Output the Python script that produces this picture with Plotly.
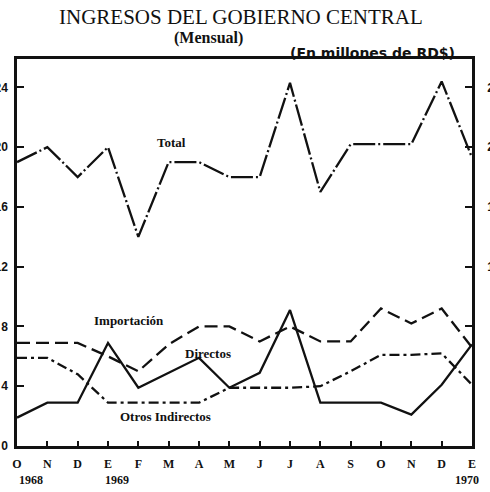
import plotly.graph_objects as go

# Monthly central-government revenue, Oct 1968 - Jan 1970 (millions of RD$)
months = ["O", "N", "D", "E", "F", "M", "A", "M", "J", "J", "A", "S", "O", "N", "D", "E"]
total = [19.0, 20.0, 18.0, 20.0, 14.0, 19.0, 19.0, 18.0, 18.0, 24.3, 17.0, 20.2, 20.2, 20.2, 24.4, 19.3]
importacion = [6.9, 6.9, 6.9, 6.0, 5.0, 6.8, 8.0, 8.0, 7.0, 8.0, 7.0, 7.0, 9.2, 8.2, 9.2, 6.6]
directos = [5.9, 5.9, 4.8, 2.9, 2.9, 2.9, 2.9, 3.9, 3.9, 3.9, 4.0, 5.0, 6.1, 6.1, 6.2, 4.1]
otros = [1.9, 2.9, 2.9, 6.9, 3.9, 4.9, 5.9, 3.9, 4.9, 9.1, 2.9, 2.9, 2.9, 2.1, 4.1, 6.8]

left_ticks = [0, 4, 8, 12, 16, 20, 24]
left_labels = ["0", "4", "8", "12", "16", "20", "24"]
right_ticks = [8, 12, 16, 20, 24]
right_labels = ["", "12", "16", "20", "24"]
years = ["1968", "1969", "1970"]
year_pos = [0.45, 3.3, 14.85]

W, H = 490, 492
L, R, T, B = 17, 472, 59, 446   # plot frame in page pixels


def px(xp):
    return (xp - L) / (R - L)


def py(yp):
    return (B - yp) / (B - T)


x = list(range(len(months)))
INK = "#111111"

fig = go.Figure()
series = [
    ("Total", total, "22px,3px,2px,3px"),
    ("Importación", importacion, "13px,6px"),
    ("Directos", directos, "10px,4px,3px,4px"),
    ("Otros Indirectos", otros, "solid"),
]
for name, vals, dash in series:
    fig.add_trace(go.Scatter(
        x=x, y=vals, mode="lines", name=name,
        line=dict(color=INK, width=2.3, dash=dash),
        showlegend=False, hoverinfo="skip",
    ))
# invisible trace to carry the right-hand axis
fig.add_trace(go.Scatter(x=[0], y=[0], yaxis="y2", mode="markers",
                         marker=dict(opacity=0), showlegend=False, hoverinfo="skip"))

serif = "Liberation Serif"
anns = [
    dict(text="INGRESOS DEL GOBIERNO CENTRAL", x=241, y=17, font=dict(family=serif, size=21)),
    dict(text="<b>(Mensual)</b>", x=208, y=38, font=dict(family=serif, size=16)),
    dict(text="<b>(En millones de RD$)</b>", x=372, y=53,
         font=dict(family="DejaVu Sans", size=14)),
]
for a in anns:
    fig.add_annotation(text=a["text"], xref="paper", yref="paper",
                       x=px(a["x"]), y=py(a["y"]),
                       xanchor="center", yanchor="middle", showarrow=False,
                       font=dict(color=INK, **a["font"]))

# series labels placed on the data coordinates
labels = [("<b>Total</b>", 5.1, 20.3), ("<b>Importación</b>", 3.7, 8.4),
          ("<b>Directos</b>", 6.3, 6.2), ("<b>Otros Indirectos</b>", 4.9, 1.95)]
for txt, lx, ly in labels:
    fig.add_annotation(text=txt, x=lx, y=ly, xref="x", yref="y", showarrow=False,
                       font=dict(family=serif, size=13, color=INK))

for yr, xp in zip(years, year_pos):
    fig.add_annotation(text="<b>" + yr + "</b>", x=xp, y=py(480), xref="x", yref="paper",
                       showarrow=False, yanchor="middle",
                       font=dict(family=serif, size=12, color=INK))

fig.update_layout(
    width=W, height=H,
    margin=dict(l=L, r=W - R, t=T, b=H - B, autoexpand=False),
    paper_bgcolor="white", plot_bgcolor="white",
    xaxis=dict(range=[0, 15], tickvals=x, ticktext=["<b>%s</b>" % m for m in months],
               ticks="inside", ticklen=5, tickwidth=2, tickcolor=INK,
               showline=True, linewidth=2.5, linecolor=INK, mirror=True,
               showgrid=False, zeroline=False, ticklabelstandoff=5, automargin=False,
               tickfont=dict(family=serif, size=12, color=INK)),
    yaxis=dict(range=[0, 25.9], tickvals=left_ticks, ticktext=["<b>%s</b>" % t for t in left_labels],
               ticks="inside", ticklen=7, tickwidth=2, tickcolor=INK,
               showline=True, linewidth=2.5, linecolor=INK,
               showgrid=False, zeroline=False, ticklabelstandoff=4, automargin=False,
               tickfont=dict(family="Liberation Sans", size=12, color=INK)),
    yaxis2=dict(range=[0, 25.9], overlaying="y", side="right",
                tickvals=right_ticks, ticktext=["<b>%s</b>" % t for t in right_labels],
                ticks="inside", ticklen=7, tickwidth=2, tickcolor=INK,
                showline=True, linewidth=2.5, linecolor=INK,
                showgrid=False, zeroline=False, ticklabelstandoff=10, automargin=False,
                tickfont=dict(family="Liberation Sans", size=12, color=INK)),
)

fig.write_html("out.html")
